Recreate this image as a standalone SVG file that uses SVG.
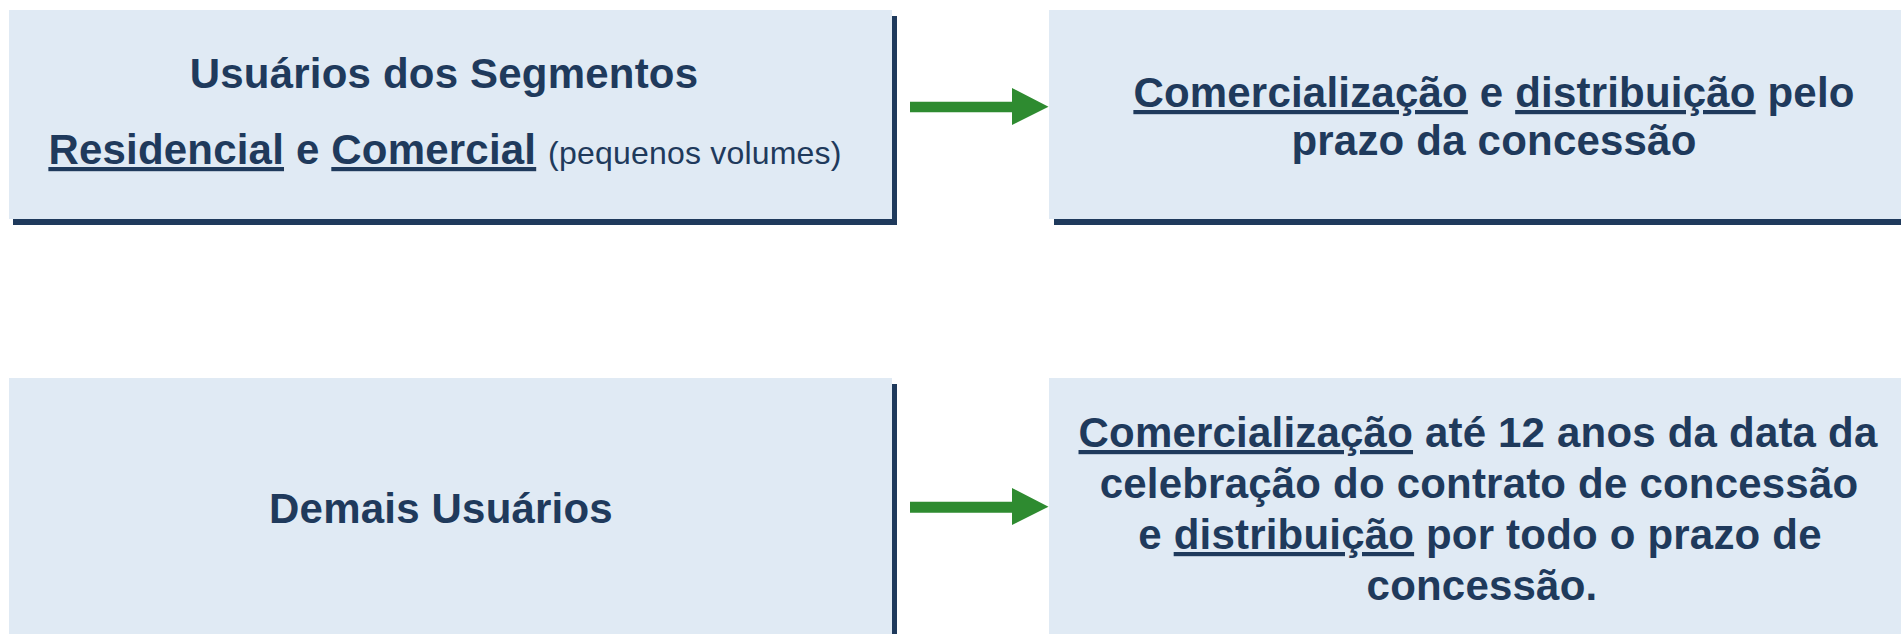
<svg xmlns="http://www.w3.org/2000/svg" width="1901" height="634" viewBox="0 0 1901 634">
  <style>
    .fill { fill: #E0EAF4; }
    .shadow { fill: #1F3A5C; }
    .t { font-family: "Liberation Sans", Arial, sans-serif; font-weight: bold; font-size: 42px; fill: #1F3A5C; text-anchor: middle; letter-spacing: 0.2px; }
    .u { text-decoration: underline; }
    .small { font-weight: normal; font-size: 32px; }
    .arrow { fill: #2E8B30; }
  </style>
  <rect x="0" y="0" width="1901" height="634" fill="#FFFFFF"/>

  <g id="node-residencial">
    <rect class="shadow" x="13" y="16" width="884" height="209"/>
    <rect class="fill" x="9" y="10" width="883" height="209"/>
    <text class="t" x="444" y="88">Usuários dos Segmentos</text>
    <text class="t" x="445" y="164"><tspan class="u">Residencial</tspan> e <tspan class="u">Comercial</tspan> <tspan class="small">(pequenos volumes)</tspan></text>
  </g>

  <g id="node-comercializacao-distribuicao">
    <rect class="shadow" x="1054" y="16" width="900" height="209"/>
    <rect class="fill" x="1049" y="10" width="900" height="209"/>
    <text class="t" x="1494" y="107"><tspan class="u">Comercialização</tspan> e <tspan class="u">distribuição</tspan> pelo</text>
    <text class="t" x="1494" y="155">prazo da concessão</text>
  </g>

  <g id="node-demais">
    <rect class="shadow" x="13" y="384" width="884" height="300"/>
    <rect class="fill" x="9" y="378" width="883" height="300"/>
    <text class="t" x="441" y="523">Demais Usuários</text>
  </g>

  <g id="node-comercializacao-12anos">
    <rect class="shadow" x="1054" y="384" width="900" height="300"/>
    <rect class="fill" x="1049" y="378" width="900" height="300"/>
    <text class="t" x="1478" y="447"><tspan class="u">Comercialização</tspan> até 12 anos da data da</text>
    <text class="t" x="1479" y="498">celebração do contrato de concessão</text>
    <text class="t" x="1480" y="549">e <tspan class="u">distribuição</tspan> por todo o prazo de</text>
    <text class="t" x="1482" y="600">concessão.</text>
  </g>

  <g id="connectors">
    <polygon class="arrow" points="910,101.7 1012,101.7 1012,88 1048.5,106.7 1012,125 1012,112.3 910,112.3"/>
    <polygon class="arrow" points="910,501.7 1012,501.7 1012,488 1048.5,506.7 1012,525 1012,512.7 910,512.7"/>
  </g>
</svg>
